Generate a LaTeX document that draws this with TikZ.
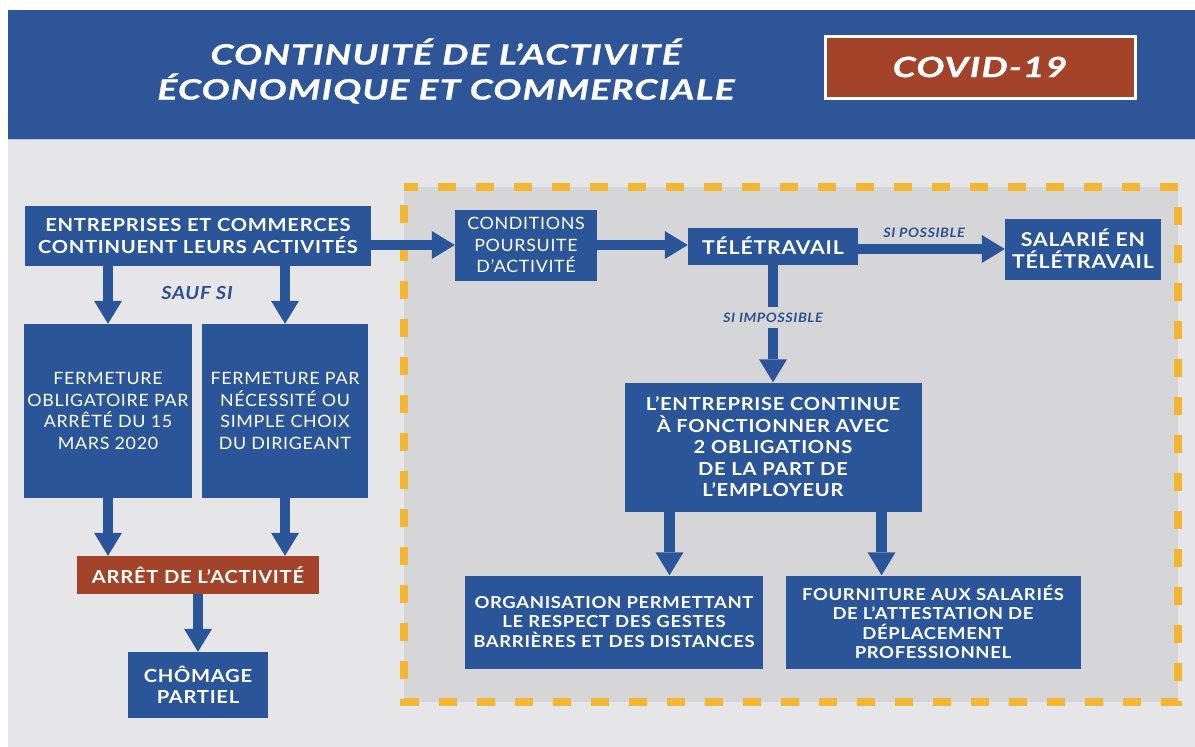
\documentclass[tikz,border=0pt]{standalone}
\usepackage{fontspec}
\setmainfont{Lato}
\newfontfamily\ttlfont[FakeStretch=1.33,LetterSpace=4,FakeBold=0.8]{Lato}
\newfontfamily\bxfont[FakeStretch=1.12,LetterSpace=4]{Lato}
\newfontfamily\rgfont[FakeStretch=1.05,LetterSpace=4]{Lato}
\usetikzlibrary{arrows.meta,calc}
\definecolor{hdrblue}{HTML}{2D5597}
\definecolor{boxblue}{HTML}{2B5599}
\definecolor{rust}{HTML}{A2432A}
\definecolor{bg}{HTML}{E6E6E8}
\definecolor{innerbg}{HTML}{D6D6D9}
\definecolor{dashy}{HTML}{F2B632}
\definecolor{lblblue}{HTML}{2E5290}
\definecolor{sepline}{HTML}{B9C8E2}
\begin{document}
\begin{tikzpicture}[x=1pt,y=-1pt,
  box/.style={fill=boxblue, text=white, inner sep=0pt, align=center},
  bfont/.style={font=\bxfont\bfseries\fontsize{18}{21.5}\selectfont},
  rfont/.style={font=\rgfont\fontsize{17}{21.5}\selectfont},
  arr/.style={draw=boxblue, line width=10.5pt, -{Triangle[length=23pt,width=28pt,line width=0pt]}},
  lbl/.style={text=lblblue, inner sep=1pt, font=\bxfont\bfseries\itshape\fontsize{13}{15}\selectfont}]
\useasboundingbox (0,0) rectangle (1195,747);
\fill[white] (0,0) rectangle (1195,747);
\fill[bg] (8,139) rectangle (1195,747);
\fill[hdrblue] (8,10) rectangle (1195,139);
\draw[sepline, line width=1.5pt] (8,139.5) -- (1195,139.5);
% header
\node[text=white, align=center, inner sep=0pt, font=\ttlfont\bfseries\itshape\fontsize{28}{35}\selectfont] (title) at (446,71) {CONTINUITÉ DE L’ACTIVITÉ\\ÉCONOMIQUE ET COMMERCIALE};
\node[fill=rust, draw=white, line width=3pt, minimum width=310pt, minimum height=62pt, text=white, font=\ttlfont\bfseries\itshape\fontsize{28}{33}\selectfont] (covid) at (980,67) {COVID-19};
% dashed zone
\fill[innerbg] (404,187) rectangle (1178,702);
\draw[dashy, line width=7.5pt, dash pattern=on 18pt off 20pt, dash phase=4pt] (404,187) -- (1178,187) -- (1178,702) -- (404,702) -- cycle;
% left side
\node[box, bfont, minimum width=346pt, minimum height=60pt] (e1) at (198,236) {ENTREPRISES ET COMMERCES\\CONTINUENT LEURS ACTIVITÉS};
\node[box, rfont, minimum width=168pt, minimum height=174pt] (f1) at (108,411) {FERMETURE\\OBLIGATOIRE PAR\\ARRÊTÉ DU 15\\MARS 2020};
\node[box, rfont, minimum width=166pt, minimum height=174pt] (f2) at (285,411) {FERMETURE PAR\\NÉCESSITÉ OU\\SIMPLE CHOIX\\DU DIRIGEANT};
\node[box, bfont, fill=rust, minimum width=242pt, minimum height=38pt] (arret) at (198,575) {ARRÊT DE L’ACTIVITÉ};
\node[box, bfont, minimum width=140pt, minimum height=66pt] (chom) at (198,685) {CHÔMAGE\\PARTIEL};
\node[text=lblblue, inner sep=0pt, font=\bxfont\bfseries\itshape\fontsize{18}{20}\selectfont] (sauf) at (197,293) {SAUF SI};
% right side
\node[box, rfont, minimum width=142pt, minimum height=71pt] (cond) at (526,245) {CONDITIONS\\POURSUITE\\D’ACTIVITÉ};
\node[box, font=\bxfont\bfseries\fontsize{19}{22}\selectfont, minimum width=170pt, minimum height=37pt] (tele) at (773,246) {TÉLÉTRAVAIL};
\node[box, font=\bxfont\bfseries\fontsize{19}{22}\selectfont, minimum width=156pt, minimum height=61pt] (sal) at (1083,249) {SALARIÉ EN\\TÉLÉTRAVAIL};
\node[box, bfont, minimum width=297pt, minimum height=129pt] (ent) at (773,447) {L’ENTREPRISE CONTINUE\\À FONCTIONNER AVEC\\2 OBLIGATIONS\\DE LA PART DE\\L’EMPLOYEUR};
\node[box, font=\bxfont\bfseries\fontsize{16.5}{19.5}\selectfont, minimum width=298pt, minimum height=93pt] (org) at (614,622) {ORGANISATION PERMETTANT\\LE RESPECT DES GESTES\\BARRIÈRES ET DES DISTANCES};
\node[box, font=\bxfont\bfseries\fontsize{16.5}{19.5}\selectfont, minimum width=295pt, minimum height=93pt] (four) at (933,622) {FOURNITURE AUX SALARIÉS\\DE L’ATTESTATION DE\\DÉPLACEMENT\\PROFESSIONNEL};
% arrows left
\draw[arr] (f1.north |- e1.south) -- (f1.north);
\draw[arr] (f2.north |- e1.south) -- (f2.north);
\draw[arr] (f1.south) -- (f1.south |- arret.north);
\draw[arr] (f2.south) -- (f2.south |- arret.north);
\draw[arr] (arret.south) -- (chom.north);
% arrows right
\draw[arr] (e1.east |- cond.west) -- (cond.west);
\draw[arr] (cond.east) -- (cond.east -| tele.west);
\draw[arr] (tele.east |- sal.west) -- node[lbl, above=5pt, pos=0.45] (poss) {SI POSSIBLE} (sal.west);
\draw[arr] (tele.south) -- node[lbl, fill=innerbg, inner ysep=6pt, pos=0.45] (imp) {SI IMPOSSIBLE} (ent.north);
\draw[arr] ($(ent.south west)!0.152!(ent.south east)$) coordinate (s1) -- (s1 |- org.north);
\draw[arr] ($(ent.south west)!0.865!(ent.south east)$) coordinate (s2) -- (s2 |- four.north);
\end{tikzpicture}
\end{document}
